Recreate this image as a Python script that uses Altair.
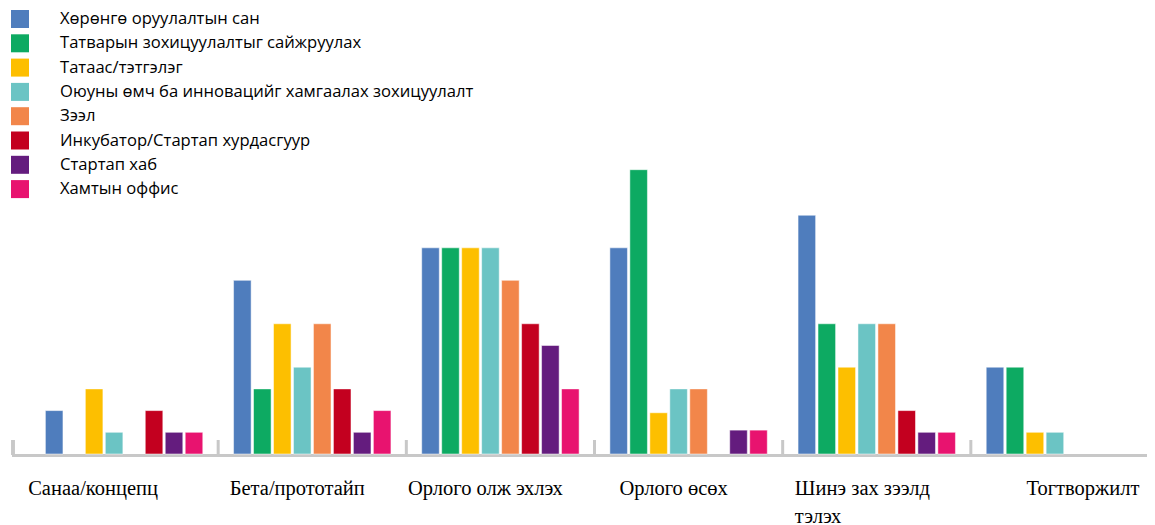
import altair as alt
import pandas as pd

categories = ["Санаа/концепц", "Бета/прототайп", "Орлого олж эхлэх", "Орлого өсөх",
              "Шинэ зах зээлд тэлэх", "Тогтворжилт"]
series = ["Хөрөнгө оруулалтын сан", "Татварын зохицуулалтыг сайжруулах", "Татаас/тэтгэлэг",
          "Оюуны өмч ба инновацийг хамгаалах зохицуулалт", "Зээл",
          "Инкубатор/Стартап хурдасгуур", "Стартап хаб", "Хамтын оффис"]
colors = ["#4F7DBD", "#0DAA62", "#FDBF00", "#6BC4C4", "#F2864A", "#C3001F", "#641C7E", "#E8136F"]

# values per stage, in series order
v_sanaa = [2, 0, 3, 1, 0, 2, 1, 1]
v_beta = [8, 3, 6, 4, 6, 3, 1, 2]
v_olj = [9.5, 9.5, 9.5, 9.5, 8, 6, 5, 3]
v_osoh = [9.5, 13.1, 1.9, 3, 3, 0, 1.1, 1.1]
v_shine = [11, 6, 4, 6, 6, 2, 1, 1]
v_togt = [4, 4, 1, 1, 0, 0, 0, 0]

all_vals = [v_sanaa, v_beta, v_olj, v_osoh, v_shine, v_togt]
rows = []
for c, vals in zip(categories, all_vals):
    for s, v in zip(series, vals):
        if v > 0:
            rows.append({"stage": c, "series": s, "value": v})
df = pd.DataFrame(rows)
ticks_df = pd.DataFrame({"stage": categories[1:]})

W, H = 1139, 446
xscale = alt.Scale(domain=categories, range=[22, 1151], paddingInner=0, paddingOuter=0)

label_axis = alt.Axis(
    domain=False, ticks=False, grid=False, title=None, labelAngle=0,
    labelFont="Liberation Serif", labelFontSize=20.5, labelColor="#000000",
    labelPadding=24, labelBaseline="top", labelLineHeight=28,
    labelExpr="datum.value == 'Шинэ зах зээлд тэлэх' ? ['Шинэ зах зээлд', 'тэлэх'] : datum.label",
    labelAlign={"condition": {"test": "datum.value == 'Шинэ зах зээлд тэлэх'", "value": "left"},
                "value": "center"},
    labelOffset={"condition": [
        {"test": "datum.value == 'Санаа/концепц'", "value": -31},
        {"test": "datum.value == 'Тогтворжилт'", "value": 18},
        {"test": "datum.value == 'Шинэ зах зээлд тэлэх'", "value": -82},
    ], "value": -15},
)

baseline = alt.Chart(ticks_df).mark_rule(color="#C8C8C8", strokeWidth=3).encode(
    x=alt.value(4), x2=alt.value(W), y=alt.value(447.5))

left_tick = alt.Chart(ticks_df).mark_rule(color="#C8C8C8", strokeWidth=3).encode(
    x=alt.value(5), y=alt.value(432), y2=alt.value(447))

ticks = alt.Chart(ticks_df).mark_rule(color="#C8C8C8", strokeWidth=3).encode(
    x=alt.X("stage:N", bandPosition=0, scale=xscale, axis=label_axis),
    y=alt.value(432), y2=alt.value(447))

bars = alt.Chart(df).mark_bar(stroke="white", strokeWidth=1, strokeOpacity=0.5).encode(
    x=alt.X("stage:N", scale=xscale, axis=label_axis),
    xOffset=alt.XOffset("series:N", scale=alt.Scale(domain=series, paddingInner=0.12, paddingOuter=0.77)),
    y=alt.Y("value:Q", scale=alt.Scale(domain=[0, 20.55], nice=False), axis=None),
    color=alt.Color("series:N", scale=alt.Scale(domain=series, range=colors),
                    legend=alt.Legend(orient="none", legendX=3, legendY=2, title=None,
                                      symbolType="square", symbolSize=324, symbolStrokeWidth=0,
                                      labelFont="Open Sans", labelFontSize=16.6, labelColor="#000000",
                                      labelOffset=31, rowPadding=6.3, padding=0, labelLimit=600)),
)

chart = alt.layer(baseline, left_tick, ticks, bars).properties(
    width=W, height=H,
    autosize=alt.AutoSizeParams(type="none"),
    padding={"left": 0, "top": 0, "right": 0, "bottom": 71},
).configure_view(stroke=None)

chart.save("out.html", embed_options={"renderer": "svg", "actions": False})
